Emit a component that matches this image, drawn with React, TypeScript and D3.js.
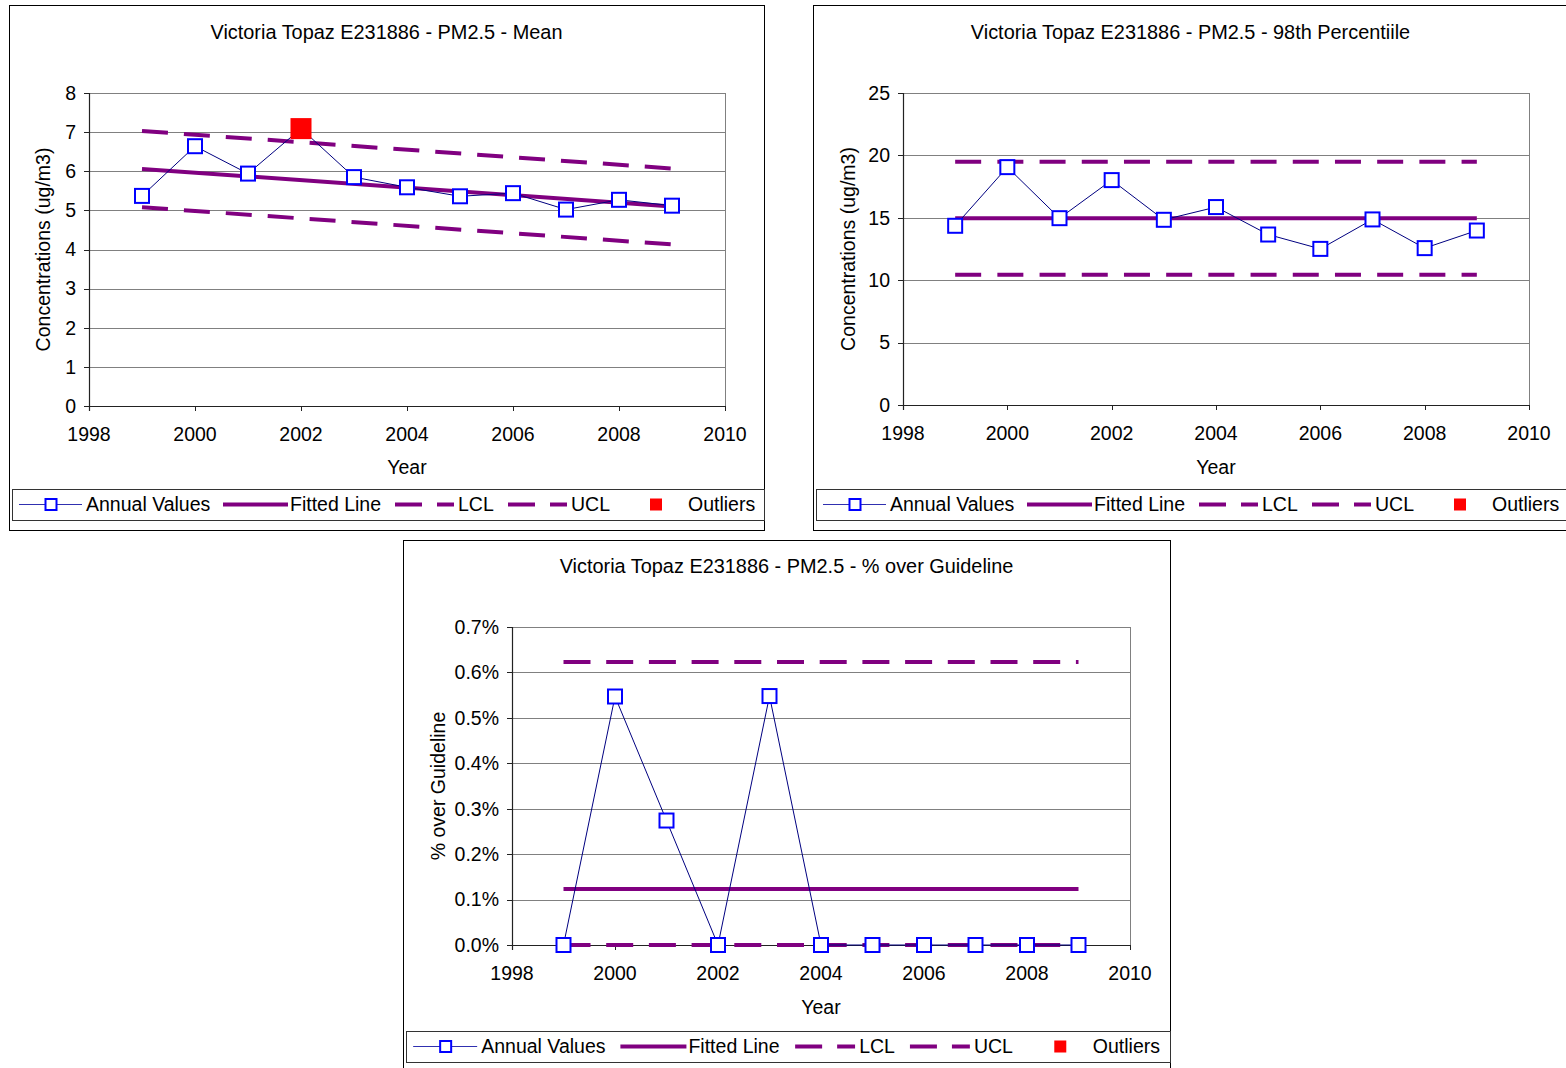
import React from "react";
import * as d3 from "d3";

const years = [1999, 2000, 2001, 2002, 2003, 2004, 2005, 2006, 2007, 2008, 2009];
const xTicks = [1998, 2000, 2002, 2004, 2006, 2008, 2010];
const legendLabels = ["Annual Values", "Fitted Line", "LCL", "UCL", "Outliers"];

// Mean chart
const meanValues = [5.37, 6.64, 5.94, 7.09, 5.85, 5.59, 5.36, 5.44, 5.02, 5.27, 5.12];
const meanOutlierYears = [2002];
const meanFitted = [6.06, 5.1];
const meanLCL = [5.08, 4.13];
const meanUCL = [7.03, 6.07];
const meanYTicks = [0, 1, 2, 3, 4, 5, 6, 7, 8];

// 98th percentile chart
const pctlValues = [14.36, 19.06, 14.97, 18.02, 14.84, 15.86, 13.66, 12.51, 14.87, 12.57, 13.98];
const pctlOutlierYears: number[] = [];
const pctlFitted = [14.97, 14.97];
const pctlLCL = [10.43, 10.43];
const pctlUCL = [19.49, 19.49];
const pctlYTicks = [0, 5, 10, 15, 20, 25];

// % over guideline chart
const guideValues = [0, 0.00547, 0.00274, 0, 0.00548, 0, 0, 0, 0, 0, 0];
const guideOutlierYears: number[] = [];
const guideFitted = [0.00123, 0.00123];
const guideLCL = [0, 0];
const guideUCL = [0.00623, 0.00623];
const guideYTicks = [0, 0.001, 0.002, 0.003, 0.004, 0.005, 0.006, 0.007];

const FONT = "'Liberation Sans', Arial, sans-serif";
const FS = 19.5;
const PURPLE = "#800080";

type Cfg = {
  box: { x: number; y: number; w: number; h: number };
  plot: { l: number; t: number; r: number; b: number };
  title: string;
  yLabel: string;
  yLabelX: number;
  titleY: number;
  xLabelY: number;
  legendY: number;
  yTicks: number[];
  yFmt: (v: number) => string;
  values: number[];
  outliers: number[];
  fitted: number[];
  lcl: number[];
  ucl: number[];
  dash: string;
};

function Chart({ c }: { c: Cfg }) {
  const x = d3.scaleLinear().domain([1998, 2010]).range([c.plot.l, c.plot.r]);
  const yMax = c.yTicks[c.yTicks.length - 1];
  const y = d3.scaleLinear().domain([0, yMax]).range([c.plot.b, c.plot.t]);
  const line = d3
    .line<[number, number]>()
    .x((d) => x(d[0]))
    .y((d) => y(d[1]));
  const first = years[0];
  const last = years[years.length - 1];
  const seg = (v: number[]) => line([[first, v[0]], [last, v[1]]]) || "";
  const series = line(years.map((yr, i) => [yr, c.values[i]] as [number, number])) || "";
  const k = c.box.w / 755;
  const lx = (v: number) => c.box.x + v * k;
  const ly = c.legendY + 15.5;
  const plotMidY = (c.plot.t + c.plot.b) / 2;
  const boxMidX = c.box.x + c.box.w / 2;
  return (
    <g fontFamily={FONT} fontSize={FS} fill="#000">
      <rect x={c.box.x + 0.5} y={c.box.y + 0.5} width={c.box.w} height={c.box.h} fill="#fff" stroke="#000" strokeWidth={1} />
      <text x={boxMidX} y={c.titleY} textAnchor="middle" dy="0.35em" fontSize={19.9}>{c.title}</text>
      {/* gridlines */}
      {c.yTicks.map((t) => (
        <line key={"g" + t} x1={c.plot.l} x2={c.plot.r} y1={Math.round(y(t)) + 0.5} y2={Math.round(y(t)) + 0.5} stroke="#808080" strokeWidth={1} />
      ))}
      <line x1={c.plot.r + 0.5} x2={c.plot.r + 0.5} y1={c.plot.t} y2={c.plot.b} stroke="#808080" strokeWidth={1} />
      {/* axes */}
      <line x1={c.plot.l + 0.5} x2={c.plot.l + 0.5} y1={c.plot.t} y2={c.plot.b + 5} stroke="#222" strokeWidth={1.2} />
      <line x1={c.plot.l} x2={c.plot.r} y1={c.plot.b + 0.5} y2={c.plot.b + 0.5} stroke="#222" strokeWidth={1.2} />
      {c.yTicks.map((t) => (
        <g key={"yt" + t}>
          <line x1={c.plot.l - 5} x2={c.plot.l} y1={Math.round(y(t)) + 0.5} y2={Math.round(y(t)) + 0.5} stroke="#222" />
          <text x={c.plot.l - 13} y={y(t)} textAnchor="end" dy="0.35em">{c.yFmt(t)}</text>
        </g>
      ))}
      {xTicks.map((t) => (
        <g key={"xt" + t}>
          <line x1={Math.round(x(t)) + 0.5} x2={Math.round(x(t)) + 0.5} y1={c.plot.b} y2={c.plot.b + 5} stroke="#222" />
          <text x={x(t)} y={c.plot.b + 28} textAnchor="middle" dy="0.35em">{t}</text>
        </g>
      ))}
      <text x={(c.plot.l + c.plot.r) / 2} y={c.xLabelY} textAnchor="middle" dy="0.35em">Year</text>
      <text transform={`translate(${c.yLabelX},${plotMidY}) rotate(-90)`} textAnchor="middle" dy="0.35em">{c.yLabel}</text>
      {/* control lines */}
      <path d={seg(c.lcl)} stroke={PURPLE} strokeWidth={4} strokeDasharray={c.dash} fill="none" />
      <path d={seg(c.ucl)} stroke={PURPLE} strokeWidth={4} strokeDasharray={c.dash} fill="none" />
      <path d={seg(c.fitted)} stroke={PURPLE} strokeWidth={4} fill="none" />
      {/* annual values */}
      <path d={series} stroke="#000080" strokeWidth={1} fill="none" />
      {years.map((yr, i) =>
        c.outliers.includes(yr) ? (
          <rect key={"m" + yr} x={x(yr) - 10.5} y={y(c.values[i]) - 10.5} width={21} height={21} fill="#ff0000" />
        ) : (
          <rect key={"m" + yr} x={x(yr) - 7} y={y(c.values[i]) - 7} width={14} height={14} fill="#fff" stroke="#0000ff" strokeWidth={2} />
        )
      )}
      {/* legend */}
      <rect x={c.box.x + 3.5} y={c.legendY + 0.5} width={c.box.w - 3} height={31} fill="#fff" stroke="#333" strokeWidth={1} />
      <line x1={lx(10)} x2={lx(73)} y1={ly} y2={ly} stroke="#3030b0" strokeWidth={1.2} />
      <rect x={lx(42) - 5.5} y={ly - 5.5} width={11} height={11} fill="#fff" stroke="#0000ff" strokeWidth={2} />
      <text x={lx(77)} y={ly} dy="0.35em">{legendLabels[0]}</text>
      <line x1={lx(214)} x2={lx(279)} y1={ly} y2={ly} stroke={PURPLE} strokeWidth={4} />
      <text x={lx(281)} y={ly} dy="0.35em">{legendLabels[1]}</text>
      <line x1={lx(386)} x2={lx(445)} y1={ly} y2={ly} stroke={PURPLE} strokeWidth={4} strokeDasharray="27,15" />
      <text x={lx(449)} y={ly} dy="0.35em">{legendLabels[2]}</text>
      <line x1={lx(499)} x2={lx(558)} y1={ly} y2={ly} stroke={PURPLE} strokeWidth={4} strokeDasharray="27,15" />
      <text x={lx(562)} y={ly} dy="0.35em">{legendLabels[3]}</text>
      <rect x={lx(647) - 6} y={ly - 6} width={12} height={12} fill="#ff0000" />
      <text x={lx(679)} y={ly} dy="0.35em">{legendLabels[4]}</text>
    </g>
  );
}

const charts: Cfg[] = [
  {
    box: { x: 9, y: 5, w: 755, h: 525 },
    plot: { l: 89, t: 93, r: 725, b: 406 },
    title: "Victoria Topaz E231886 - PM2.5 - Mean",
    yLabel: "Concentrations (ug/m3)",
    yLabelX: 43,
    titleY: 32,
    xLabelY: 467,
    legendY: 489,
    yTicks: meanYTicks,
    yFmt: (v) => String(v),
    values: meanValues,
    outliers: meanOutlierYears,
    fitted: meanFitted,
    lcl: meanLCL,
    ucl: meanUCL,
    dash: "26,16",
  },
  {
    box: { x: 813, y: 5, w: 755, h: 525 },
    plot: { l: 903, t: 93, r: 1529, b: 405 },
    title: "Victoria Topaz E231886 - PM2.5 - 98th Percentiile",
    yLabel: "Concentrations (ug/m3)",
    yLabelX: 848,
    titleY: 32,
    xLabelY: 467,
    legendY: 489,
    yTicks: pctlYTicks,
    yFmt: (v) => String(v),
    values: pctlValues,
    outliers: pctlOutlierYears,
    fitted: pctlFitted,
    lcl: pctlLCL,
    ucl: pctlUCL,
    dash: "26,16.2",
  },
  {
    box: { x: 403, y: 540, w: 767, h: 535 },
    plot: { l: 512, t: 627, r: 1130, b: 945 },
    title: "Victoria Topaz E231886 - PM2.5 - % over Guideline",
    yLabel: "% over Guideline",
    yLabelX: 438,
    titleY: 566,
    xLabelY: 1007,
    legendY: 1031,
    yTicks: guideYTicks,
    yFmt: d3.format(".1%"),
    values: guideValues,
    outliers: guideOutlierYears,
    fitted: guideFitted,
    lcl: guideLCL,
    ucl: guideUCL,
    dash: "27,15.7",
  },
];

export default function App() {
  return (
    <svg
      width={1566}
      height={1068}
      style={{ position: "absolute", left: 0, top: 0, background: "#fff" }}
    >
      {charts.map((c, i) => (
        <Chart key={i} c={c} />
      ))}
    </svg>
  );
}
